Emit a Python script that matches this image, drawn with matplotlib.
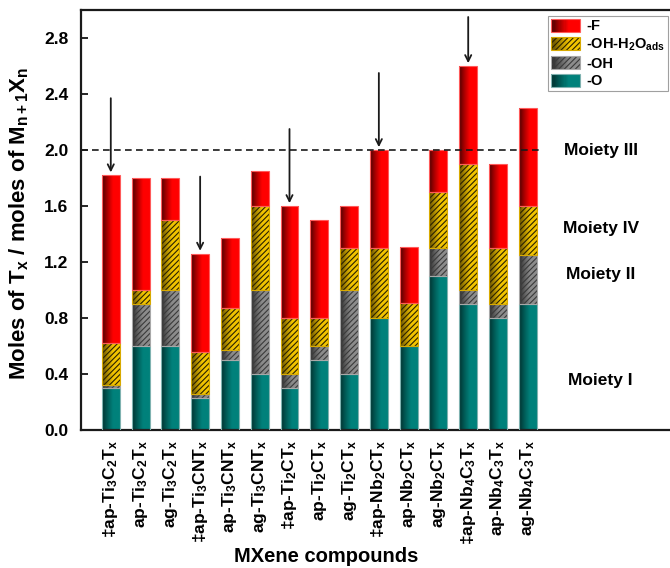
import numpy as np
import matplotlib
matplotlib.use("Agg")
import matplotlib.pyplot as plt
from matplotlib.colors import to_rgb
from matplotlib.patches import Rectangle
from matplotlib.legend_handler import HandlerBase

plt.rcParams['font.family'] = ['Liberation Sans', 'DejaVu Sans']
plt.rcParams['font.weight'] = 'bold'
plt.rcParams['mathtext.fontset'] = 'custom'
plt.rcParams['mathtext.rm'] = 'Liberation Sans:bold'
plt.rcParams['mathtext.it'] = 'Liberation Sans:bold'
plt.rcParams['mathtext.bf'] = 'Liberation Sans:bold'
plt.rcParams['mathtext.default'] = 'rm'
plt.rcParams['hatch.linewidth'] = 0.8

# ---- data -------------------------------------------------------------
compounds = [
    r'‡ap-Ti$_3$C$_2$T$_x$', r'ap-Ti$_3$C$_2$T$_x$', r'ag-Ti$_3$C$_2$T$_x$',
    r'‡ap-Ti$_3$CNT$_x$', r'ap-Ti$_3$CNT$_x$', r'ag-Ti$_3$CNT$_x$',
    r'‡ap-Ti$_2$CT$_x$', r'ap-Ti$_2$CT$_x$', r'ag-Ti$_2$CT$_x$',
    r'‡ap-Nb$_2$CT$_x$', r'ap-Nb$_2$CT$_x$', r'ag-Nb$_2$CT$_x$',
    r'‡ap-Nb$_4$C$_3$T$_x$', r'ap-Nb$_4$C$_3$T$_x$', r'ag-Nb$_4$C$_3$T$_x$',
]
o_vals   = [0.30, 0.60, 0.60, 0.23, 0.50, 0.40, 0.30, 0.50, 0.40, 0.80, 0.60, 1.10, 0.90, 0.80, 0.90]
oh_vals  = [0.02, 0.30, 0.40, 0.03, 0.07, 0.60, 0.10, 0.10, 0.60, 0.00, 0.00, 0.20, 0.10, 0.10, 0.35]
h2o_vals = [0.30, 0.10, 0.50, 0.30, 0.30, 0.60, 0.40, 0.20, 0.30, 0.50, 0.31, 0.40, 0.90, 0.40, 0.35]
f_vals   = [1.20, 0.80, 0.30, 0.70, 0.50, 0.25, 0.80, 0.70, 0.30, 0.70, 0.40, 0.30, 0.70, 0.60, 0.70]
marked = [0, 3, 6, 9, 12]          # compounds flagged with an arrow
moieties = ['Moiety I', 'Moiety II', 'Moiety IV', 'Moiety III']
moiety_y = [0.35, 1.11, 1.44, 2.00]
yticks = [0.0, 0.4, 0.8, 1.2, 1.6, 2.0, 2.4, 2.8]

# ---- styles -----------------------------------------------------------
layers = [
    dict(vals=o_vals,   label='-O',  dark='#002e2c', light='#00817b', edge='#7fb2b0', hatch=None, hcol=None),
    dict(vals=oh_vals,  label='-OH', dark='#262626', light='#8c8c8c', edge='#a8a8a8', hatch='//////', hcol='#3a3a3a'),
    dict(vals=h2o_vals, label=r'-OH-H$_2$O$_{ads}$', dark='#5a4600', light='#f2c400', edge='#d8aa00', hatch='//////', hcol='#2a2200'),
    dict(vals=f_vals,   label='-F',  dark='#460000', light='#ff0000', edge='#ff5a5a', hatch=None, hcol=None),
]


def gradient_rgb(dark, light, n=64):
    t = np.linspace(0, 1, n)
    f = np.clip(t / 0.62, 0, 1) ** 0.85
    d, l = np.array(to_rgb(dark)), np.array(to_rgb(light))
    return d[None, :] + (l - d)[None, :] * f[:, None]


fig = plt.figure(figsize=(6.70, 5.68), dpi=100)
ax = fig.add_axes([81 / 670, 1 - 430 / 568, (676.7 - 81) / 670, 420 / 568])

x = np.arange(len(compounds))
width = 0.6
bottom = np.zeros(len(compounds))
for lay in layers:
    vals = np.array(lay['vals'])
    bars = ax.bar(x, vals, width, bottom=bottom, color='none', edgecolor='none', zorder=1)
    grad = gradient_rgb(lay['dark'], lay['light'])[None, :, :]
    for p, v in zip(bars.patches, vals):
        if v <= 0:
            continue
        x0, y0 = p.get_x(), p.get_y()
        ax.imshow(grad, extent=[x0, x0 + p.get_width(), y0, y0 + p.get_height()],
                  aspect='auto', interpolation='bilinear', zorder=1)
    if lay['hatch']:
        ax.bar(x, vals, width, bottom=bottom, color='none', edgecolor=lay['hcol'],
               linewidth=0, hatch=lay['hatch'], zorder=2)
    ax.bar(x, np.where(vals > 0, vals, np.nan), width, bottom=bottom, color='none',
           edgecolor=lay['edge'], linewidth=0.8, zorder=3)
    bottom = bottom + vals

totals = bottom
for i in marked:
    top = totals[i]
    ax.annotate('', xy=(x[i], top + 0.02), xytext=(x[i], min(top + 0.55, 2.95)),
                arrowprops=dict(arrowstyle='->', color='#1a1a1a', lw=1.3,
                                mutation_scale=11, shrinkA=0, shrinkB=0), zorder=5)

ax.plot([-1, 14.45], [2.0, 2.0], color='#1a1a1a', lw=1.2, dashes=(4, 2.6), zorder=4)

for name, yy in zip(moieties, moiety_y):
    ax.text(16.45, yy, name, ha='center', va='center', fontsize=12.5, fontweight='bold')

ax.set_xlim(-1, 19.0)
ax.set_ylim(0, 3.0)
ax.set_yticks(yticks)
ax.set_yticklabels([f'{v:.1f}' for v in yticks], fontsize=12.5, fontweight='bold')
ax.set_xticks(x)
ax.set_xticklabels(compounds, rotation=90, fontsize=12.5, fontweight='bold', va='top', ha='center')
ax.tick_params(axis='y', direction='in', length=5, width=1.2, pad=9)
ax.tick_params(axis='x', length=0, pad=7)
for s in ax.spines.values():
    s.set_linewidth(1.6)
    s.set_color('#1a1a1a')


class GradientHandler(HandlerBase):
    def __init__(self, lay):
        super().__init__()
        self.lay = lay

    def create_artists(self, legend, orig_handle, xdescent, ydescent, width, height, fontsize, trans):
        arts = []
        cols = gradient_rgb(self.lay['dark'], self.lay['light'], 24)
        n = len(cols)
        for k, c in enumerate(cols):
            r = Rectangle((-xdescent + width * k / n, -ydescent), width / n * 1.05, height,
                          facecolor=c, edgecolor='none', transform=trans)
            arts.append(r)
        if self.lay['hatch']:
            arts.append(Rectangle((-xdescent, -ydescent), width, height, facecolor='none',
                                  edgecolor=self.lay['hcol'], linewidth=0,
                                  hatch=self.lay['hatch'], transform=trans))
        arts.append(Rectangle((-xdescent, -ydescent), width, height, facecolor='none',
                              edgecolor=self.lay['edge'], linewidth=0.8, transform=trans))
        return arts


handles, hmap = [], {}
for lay in reversed(layers):
    h = Rectangle((0, 0), 1, 1)
    handles.append(h)
    hmap[h] = GradientHandler(lay)
leg = ax.legend(handles, [l['label'] for l in reversed(layers)], handler_map=hmap,
                loc='upper left', bbox_to_anchor=(0.784, 0.986), borderaxespad=0,
                prop=dict(weight='bold', size=10.5), handlelength=2.0,
                handleheight=1.0, handletextpad=0.4, labelspacing=0.22,
                borderpad=0.2, frameon=True, fancybox=False, edgecolor='#888888')
leg.get_frame().set_linewidth(0.8)
leg.set_zorder(6)

fig.text(19 / 670, 1 - 223 / 568, r'Moles of T$_x$ / moles of M$_{n+1}$X$_n$',
         rotation=90, ha='center', va='center', fontsize=16, fontweight='bold')
fig.text(326 / 670, 1 - 556 / 568, 'MXene compounds', ha='center', va='center',
         fontsize=14.5, fontweight='bold')

fig.savefig('out.png', dpi=100)
